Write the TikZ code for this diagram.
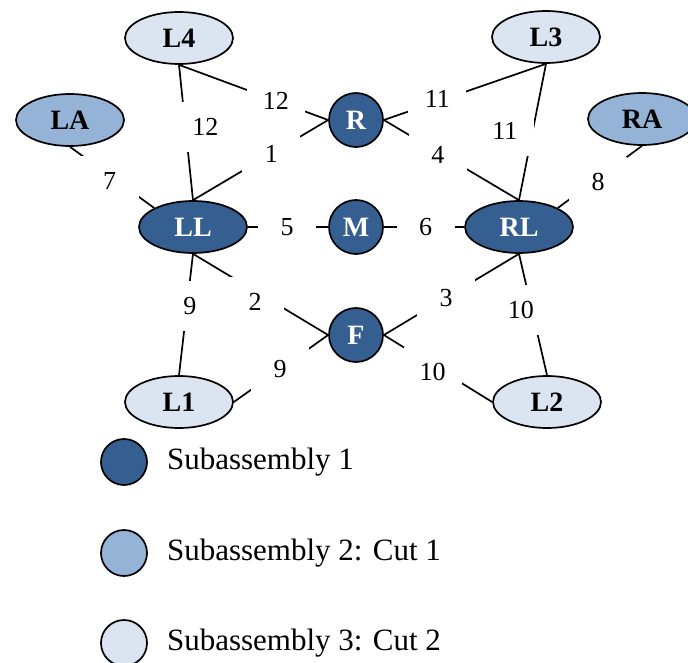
\documentclass[tikz,border=0pt]{standalone}
\usepackage{fontspec}
\setmainfont{Liberation Serif}
\usepackage{tikz}
\usetikzlibrary{shapes,positioning}
\usepackage{xcolor}
\definecolor{subdark}{RGB}{54,95,145}
\definecolor{submid}{RGB}{149,179,215}
\definecolor{sublight}{RGB}{219,229,241}

\tikzset{
  part/.style={draw=black, line width=1.7pt, inner sep=0pt, font=\fontsize{28}{28}\selectfont\bfseries},
  partell/.style={part, ellipse, minimum width=108pt, minimum height=52pt},
  partcirc/.style={part, circle, minimum size=54pt},
  lvl1/.style={fill=subdark, text=white},
  lvl2/.style={fill=submid},
  lvl3/.style={fill=sublight},
  link/.style={line width=1.7pt},
  lbl/.style={fill=white, inner sep=0pt, minimum width=58pt, minimum height=50pt, font=\fontsize{26}{26}\selectfont},
  legcirc/.style={circle, draw=black, line width=1.7pt, minimum size=46pt, inner sep=0pt},
  legtxt/.style={inner sep=0pt, anchor=west, font=\fontsize{31}{31}\selectfont}
}

\begin{document}
\begin{tikzpicture}[x=1pt, y=-1pt]
    \useasboundingbox (0,0) rectangle (688,663);
    % parts
    \node[partell, lvl3] (L4) at (179,38) {L4};
    \node[partell, lvl3] (L3) at (546,37) {L3};
    \node[partell, lvl2] (LA) at (70,120) {LA};
    \node[partell, lvl2] (RA) at (642,119) {RA};
    \node[partcirc, lvl1] (R) at (356,120) {R};
    \node[partell, lvl1] (LL) at (193,227) {LL};
    \node[partcirc, lvl1] (M) at (356,227) {M};
    \node[partell, lvl1] (RL) at (519,227) {RL};
    \node[partcirc, lvl1] (F) at (356,335) {F};
    \node[partell, lvl3] (L1) at (179,402) {L1};
    \node[partell, lvl3] (L2) at (547,402) {L2};

    % joints
    \draw[link] (L4.south) -- node[lbl, pos=.65] {12} (R.west);
    \draw[link] (L4.south) -- node[lbl, pos=.46, xshift=20pt] {12} (LL.north);
    \draw[link] (LL.north) -- node[lbl, pos=.58] {1} (R.west);
    \draw[link] (LA.south) -- node[lbl, pos=.47, yshift=-5pt] {7} (LL.north west);
    \draw[link] (LL.east) -- node[lbl, pos=.49] {5} (M.west);
    \draw[link] (M.east) -- node[lbl, pos=.52] {6} (RL.west);
    \draw[link] (LL.south) -- node[lbl, pos=.46, yshift=-11pt] {2} (F.west);
    \draw[link] (LL.south) -- node[lbl, pos=.43, xshift=3pt] {9} (L1.north);
    \draw[link] (L1.east) -- node[lbl, pos=.49] {9} (F.west);
    \draw[link] (F.east) -- node[lbl, pos=.46] {3} (RL.south);
    \draw[link] (F.east) -- node[lbl, pos=.45, yshift=-7pt] {10} (L2.west);
    \draw[link] (RL.south) -- node[lbl, pos=.46, xshift=-11pt] {10} (L2.north);
    \draw[link] (R.east) -- node[lbl, pos=.40, yshift=-3pt] {4} (RL.north);
    \draw[link] (R.east) -- node[lbl, pos=.33, yshift=3pt] {11} (L3.south);
    \draw[link] (L3.south) -- node[lbl, pos=.49, xshift=-28pt] {11} (RL.north);
    \draw[link] (RA.south) -- node[lbl, pos=.52, yshift=-4pt] {8} (RL.north east);

    % legend
    \node[legcirc, fill=subdark] (k1) at (124,462) {};
    \node[legcirc, fill=submid] (k2) at (124,553) {};
    \node[legcirc, fill=sublight] (k3) at (124,643) {};
    \node[legtxt, right=19pt of k1] (t1) {Subassembly 1};
    \node[legtxt, right=19pt of k2] (t2) {Subassembly 2: Cut 1};
    \node[legtxt, right=19pt of k3] (t3) {Subassembly 3: Cut 2};
\end{tikzpicture}
\end{document}
